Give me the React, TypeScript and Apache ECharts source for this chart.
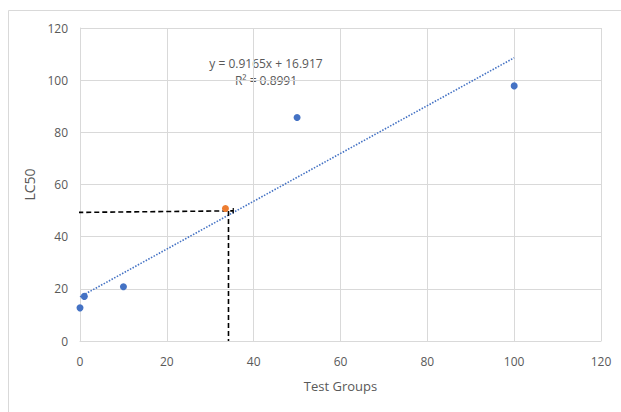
import React, { useEffect, useRef } from "react";
import * as echarts from "echarts";

const testGroups = [0, 1, 10, 50, 100];
const lc50Values = [12.7, 17.1, 20.8, 85.7, 97.8];
const estimatePoint = [33.5, 50.8];
const trendSlope = 0.9165;
const trendIntercept = 16.917;
const trendRange = [0, 100];
const guideHorizontal = [[-0.4, 49.3], [35.3, 49.9]];
const guideVertical = [[34.2, 49.8], [34.2, 0]];
const guideCross = [[35.3, 48.9], [35.3, 51.0]];
const xTicks = [0, 20, 40, 60, 80, 100, 120];
const yTicks = [0, 20, 40, 60, 80, 100, 120];
const equationText = "y = 0.9165x + 16.917";
const r2Text = "R² = 0.8991";

export default function App() {
  const ref = useRef<HTMLDivElement>(null);
  useEffect(() => {
    if (!ref.current) return;
    const chart = echarts.init(ref.current, null, { renderer: "svg" });
    const font = "'Open Sans', 'Noto Sans', sans-serif";
    const trendData = trendRange.map((x) => [x, trendSlope * x + trendIntercept]);
    const dashStyle = { color: "#000000", width: 1.6, type: [5, 3] as any };
    chart.setOption({
      animation: false,
      backgroundColor: "#ffffff",
      grid: { left: 80, right: 20, top: 28, bottom: 71, containLabel: false },
      graphic: [
        {
          type: "rect",
          shape: { x: 8.5, y: 10.5, width: 700, height: 500 },
          style: { fill: "none", stroke: "#d9d9d9", lineWidth: 1 },
          silent: true,
          z: -10,
        },
        {
          type: "text",
          x: 266,
          y: 57,
          style: {
            text: equationText,
            fill: "#595959",
            font: "12px " + font,
            align: "center",
            verticalAlign: "top",
          },
        },
        {
          type: "text",
          x: 266,
          y: 74,
          style: {
            text: r2Text,
            fill: "#595959",
            font: "12px " + font,
            align: "center",
            verticalAlign: "top",
          },
        },
      ],
      xAxis: {
        type: "value",
        min: xTicks[0],
        max: xTicks[xTicks.length - 1],
        interval: 20,
        name: "Test Groups",
        nameLocation: "middle",
        nameGap: 38,
        nameTextStyle: { color: "#595959", fontSize: 13, fontFamily: font },
        axisLine: { show: true, lineStyle: { color: "#d9d9d9", width: 1 } },
        axisTick: { show: false },
        axisLabel: { color: "#595959", fontSize: 12, fontFamily: font, margin: 14 },
        splitLine: { show: true, lineStyle: { color: "#d9d9d9", width: 1 } },
      },
      yAxis: {
        type: "value",
        min: yTicks[0],
        max: yTicks[yTicks.length - 1],
        interval: 20,
        name: "LC50",
        nameLocation: "middle",
        nameGap: 44,
        nameRotate: 90,
        nameTextStyle: { color: "#595959", fontSize: 14, fontFamily: font },
        axisLine: { show: true, lineStyle: { color: "#d9d9d9", width: 1 } },
        axisTick: { show: false },
        axisLabel: { color: "#595959", fontSize: 12, fontFamily: font, margin: 12 },
        splitLine: { show: true, lineStyle: { color: "#d9d9d9", width: 1 } },
      },
      series: [
        {
          type: "line",
          data: trendData,
          symbol: "none",
          lineStyle: { color: "#4472c4", width: 1.6, type: [1.5, 1.5] as any },
          z: 2,
        },
        {
          type: "line",
          data: guideHorizontal,
          symbol: "none",
          lineStyle: dashStyle,
          z: 3,
        },
        {
          type: "line",
          data: guideVertical,
          symbol: "none",
          lineStyle: dashStyle,
          z: 3,
        },
        {
          type: "line",
          data: guideCross,
          symbol: "none",
          lineStyle: { color: "#000000", width: 1.2 },
          z: 3,
        },
        {
          type: "scatter",
          data: testGroups.map((x, i) => [x, lc50Values[i]]),
          symbolSize: 7,
          itemStyle: { color: "#4472c4", opacity: 1 },
          z: 4,
        },
        {
          type: "scatter",
          data: [estimatePoint],
          symbolSize: 7,
          itemStyle: { color: "#ed7d31", opacity: 1 },
          z: 4,
        },
      ],
    });
    return () => chart.dispose();
  }, []);
  return (
    <div
      ref={ref}
      style={{ position: "absolute", left: 0, top: 0, width: 621, height: 412 }}
    />
  );
}
